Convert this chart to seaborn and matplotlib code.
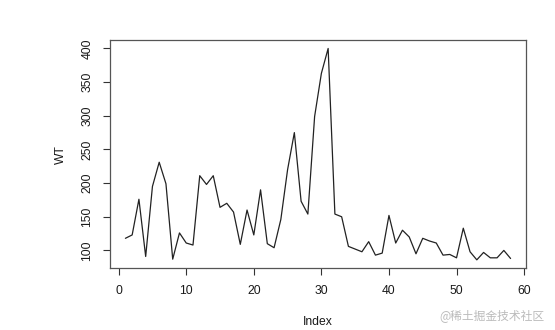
import matplotlib
matplotlib.use("Agg")
import matplotlib.pyplot as plt
import seaborn as sns
import pandas as pd
import numpy as np

wt = [118, 123, 176, 91, 195, 231, 199, 87, 126, 111,
      108, 211, 198, 211, 164, 170, 157, 109, 160, 123,
      190, 110, 104, 146, 220, 275, 173, 154, 299, 363,
      400, 154, 150, 106, 102, 98, 113, 93, 96, 152,
      111, 130, 120, 95, 118, 114, 111, 93, 94, 89,
      133, 98, 86, 97, 89, 89, 100, 88]
index = list(range(1, len(wt) + 1))
xticks = [0, 10, 20, 30, 40, 50, 60]
yticks = [100, 150, 200, 250, 300, 350, 400]

df = pd.DataFrame({"Index": index, "WT": wt})

sns.set_style("ticks")
plt.rcParams['font.family'] = ['Liberation Sans', 'DejaVu Sans']
plt.rcParams['text.color'] = '#1a1a1a'
plt.rcParams['axes.labelcolor'] = '#1a1a1a'
plt.rcParams['xtick.color'] = '#333333'
plt.rcParams['ytick.color'] = '#333333'
plt.rcParams['xtick.labelcolor'] = '#1a1a1a'
plt.rcParams['ytick.labelcolor'] = '#1a1a1a'

fig = plt.figure(figsize=(5.55, 3.3), dpi=100)
ax = fig.add_axes([110/555, 1-268.3/330, (526-110)/555, (268.3-40)/330])

sns.lineplot(data=df, x="Index", y="WT", ax=ax, color="#222222", linewidth=0.9)

xr = max(index) - min(index)
yr = max(wt) - min(wt)
ax.set_xlim(min(index) - 0.04*xr, max(index) + 0.04*xr)
ax.set_ylim(min(wt) - 0.04*yr, max(wt) + 0.04*yr)
ax.set_xticks(xticks)
ax.set_yticks(yticks)
ax.set_xticklabels([str(t) for t in xticks], fontsize=8.7)
ax.set_yticklabels([str(t) for t in yticks], fontsize=8.7, rotation=90, va="center")
ax.tick_params(axis="both", direction="out", length=5, width=0.8, pad=7)
ax.set_xlabel("Index", fontsize=8.7, labelpad=14)
ax.set_ylabel("WT", fontsize=8.7, labelpad=10)
for s in ax.spines.values():
    s.set_visible(True)
    s.set_color("#555555")
    s.set_linewidth(0.9)

fig.text(544/555, 1-316/330, "@稀土掘金技术社区", ha="right", va="center",
         fontsize=8.5, color="#bbbbbb",
         family=['Noto Sans CJK SC', 'DejaVu Sans'])

fig.savefig("out.png", dpi=100, facecolor="white")
